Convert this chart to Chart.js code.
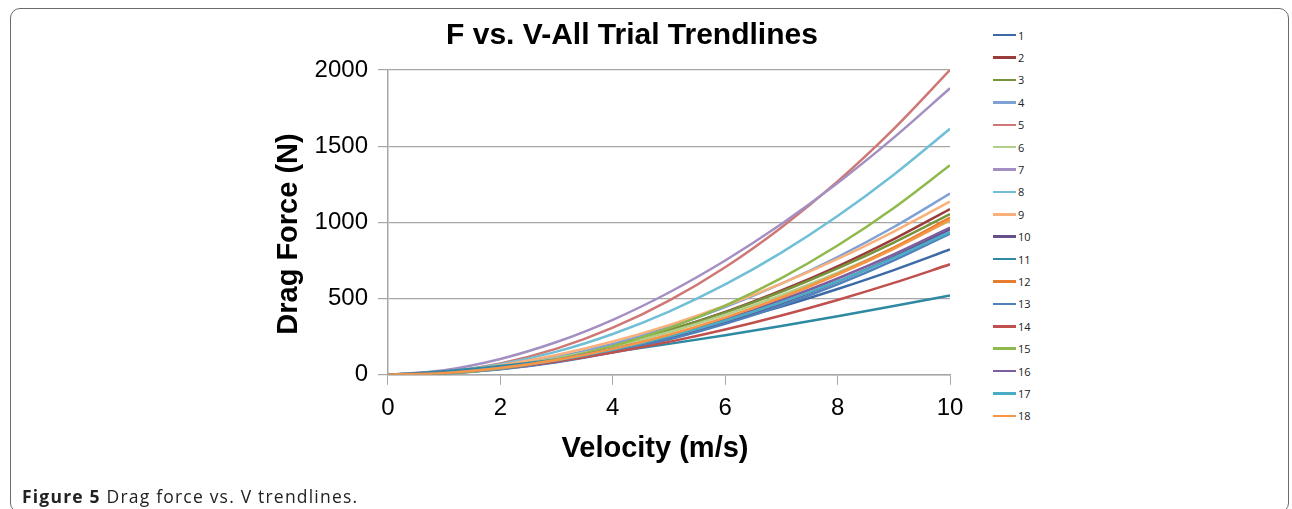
<!DOCTYPE html>
<html>
<head>
<meta charset="utf-8">
<script src="https://cdn.jsdelivr.net/npm/chart.js@4/dist/chart.umd.min.js"></script>
<style>
  body { margin: 0; background: #fff; width: 1292px; height: 509px; overflow: hidden; position: relative; }
  #frame { position: absolute; left: 10px; top: 8px; width: 1279px; height: 505px; border: 1px solid #6b6b6b; border-radius: 10px; box-sizing: border-box; }
  #wrap { position: absolute; left: 250px; top: 8px; width: 740px; height: 480px; }
  .lbl { position: absolute; text-align: center; color: #000; white-space: nowrap; font-family: "Liberation Sans", Arial, sans-serif; font-weight: bold; }
  #title { left: 432px; top: 19px; width: 400px; line-height: 30px; font-size: 30px; }
  #xTitle { left: 455px; top: 432px; width: 400px; line-height: 30px; font-size: 29px; }
  #yTitle { left: 87px; top: 219px; width: 400px; line-height: 30px; font-size: 29px; transform: rotate(-90deg); }
  #legend { position: absolute; left: 993px; top: 24px; font: 11px "Open Sans", sans-serif; color: #222; }
  .item { height: 22.4px; display: flex; align-items: center; }
  .item span.ln { display: inline-block; width: 23px; height: 2.5px; margin-right: 2px; }
  #caption { position: absolute; left: 22px; top: 484px; font: 17.5px "Open Sans", sans-serif; letter-spacing: 1.2px; color: #222; }
</style>
</head>
<body>
<div id="frame"></div>
<div id="wrap"><canvas id="dragChart"></canvas></div>
<div class="lbl" id="title">F vs. V-All Trial Trendlines</div>
<div class="lbl" id="yTitle">Drag Force (N)</div>
<div class="lbl" id="xTitle">Velocity (m/s)</div>
<div id="legend"></div>
<div id="caption"><b>Figure 5</b> Drag force vs. V trendlines.</div>
<script>
const velocity = [0, 1, 2, 3, 4, 5, 6, 7, 8, 9, 10];
const trialNames = ["1","2","3","4","5","6","7","8","9","10","11","12","13","14","15","16","17","18"];
const trialColors = ["#3c6aa6","#993c3a","#77933c","#7fa1d6","#cf7774","#b3cf87","#a38fc2","#70bfd6","#f9b07a",
                     "#654e8a","#2e8aa3","#e57c2f","#4f81bd","#c0504d","#8fb94c","#7a5ea0","#4bacc6","#f79646"];

// drag force (N) read at each velocity step
const trial1  = [0, 16, 53, 106, 173, 253, 345, 448, 563, 687, 822];
const trial2  = [0, 14, 51, 110, 191, 292, 412, 553, 712, 891, 1088];
const trial3  = [0, 15, 54, 114, 194, 293, 410, 545, 698, 868, 1055];
const trial4  = [0, 14, 53, 116, 203, 312, 444, 598, 773, 970, 1189];
const trial5  = [0, 18, 75, 172, 309, 487, 706, 967, 1269, 1614, 2000];
const trial6  = [0, 14, 52, 109, 186, 281, 394, 523, 670, 833, 1012];
const trial7  = [0, 30, 104, 215, 361, 540, 750, 989, 1258, 1556, 1880];
const trial8  = [0, 18, 69, 152, 268, 415, 593, 802, 1042, 1313, 1614];
const trial9  = [0, 18, 63, 130, 218, 326, 453, 598, 760, 940, 1136];
const trial10 = [0, 10, 38, 86, 153, 239, 344, 468, 611, 774, 955];
const trial11 = [0, 23, 58, 101, 150, 203, 260, 320, 384, 451, 520];
const trial12 = [0, 10, 41, 93, 165, 258, 371, 505, 660, 835, 1031];
const trial13 = [0, 9, 37, 83, 148, 232, 334, 454, 593, 751, 927];
const trial14 = [0, 13, 43, 88, 146, 216, 297, 389, 491, 603, 725];
const trial15 = [0, 9, 42, 101, 188, 306, 454, 634, 848, 1095, 1375];
const trial16 = [0, 12, 45, 98, 169, 259, 366, 490, 632, 790, 965];
const trial17 = [0, 12, 44, 95, 164, 251, 355, 476, 613, 767, 937];
const trial18 = [0, 11, 44, 97, 170, 263, 375, 507, 658, 827, 1016];

const trials = [trial1, trial2, trial3, trial4, trial5, trial6, trial7, trial8, trial9,
                trial10, trial11, trial12, trial13, trial14, trial15, trial16, trial17, trial18];

const datasets = trials.map((vals, i) => ({
  label: trialNames[i],
  data: velocity.map((v, j) => ({x: v, y: vals[j]})),
  borderColor: trialColors[i],
  backgroundColor: trialColors[i],
  borderWidth: 2.5,
  pointRadius: 0,
  cubicInterpolationMode: 'monotone',
  order: trials.length - 1 - i
}));

const gridGray = "#a6a6a6";

const config = {
  type: "line",
  data: { datasets: datasets },
  options: {
    responsive: true,
    maintainAspectRatio: false,
    animation: false,
    layout: { padding: { left: 54.6, top: 62, right: 40, bottom: 55.2 } },
    plugins: {
      legend: { display: false },
      tooltip: { enabled: false }
    },
    scales: {
      x: {
        type: "linear",
        min: 0,
        max: 10,
        ticks: { stepSize: 2, color: "#000", padding: 9.6, font: { family: "Liberation Sans", size: 24 } },
        grid: { drawOnChartArea: false, color: gridGray, tickLength: 10, tickColor: gridGray },
        border: { color: gridGray, width: 1.5 }
      },
      y: {
        min: 0,
        max: 2000,
        ticks: {
          stepSize: 500, color: "#000", padding: 10,
          font: { family: "Liberation Sans", size: 24 },
          callback: (value) => String(value)
        },
        grid: { color: gridGray, lineWidth: 1.2, tickLength: 10, tickColor: gridGray },
        border: { color: gridGray, width: 1.5 }
      }
    }
  }
};

let ctx = document.getElementById('dragChart');
const dragChart = new Chart(ctx, config);

// legend beside the chart, built from the same names and colours
const legendBox = document.getElementById('legend');
trialNames.forEach((name, i) => {
  const row = document.createElement('div');
  row.className = 'item';
  row.innerHTML = '<span class="ln" style="background:' + trialColors[i] + '"></span>' + name;
  legendBox.appendChild(row);
});
</script>
</body>
</html>
